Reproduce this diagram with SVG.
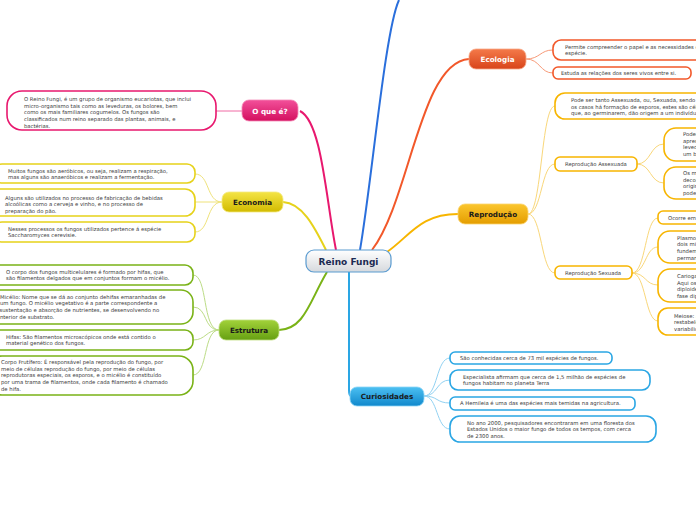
<svg xmlns="http://www.w3.org/2000/svg" width="696" height="520" viewBox="0 0 696 520">
<defs>
<linearGradient id="gCenter" x1="0" y1="0" x2="0" y2="1"><stop offset="0" stop-color="#ffffff"/><stop offset="1" stop-color="#d6d9dd"/></linearGradient>
<linearGradient id="gPink" x1="0" y1="0" x2="0" y2="1"><stop offset="0" stop-color="#f2509a"/><stop offset="1" stop-color="#d4105f"/></linearGradient>
<linearGradient id="gRed" x1="0" y1="0" x2="0" y2="1"><stop offset="0" stop-color="#f47a4a"/><stop offset="1" stop-color="#d8441a"/></linearGradient>
<linearGradient id="gGold" x1="0" y1="0" x2="0" y2="1"><stop offset="0" stop-color="#fbc62e"/><stop offset="1" stop-color="#e49d00"/></linearGradient>
<linearGradient id="gYellow" x1="0" y1="0" x2="0" y2="1"><stop offset="0" stop-color="#f4e445"/><stop offset="1" stop-color="#d2bb00"/></linearGradient>
<linearGradient id="gGreen" x1="0" y1="0" x2="0" y2="1"><stop offset="0" stop-color="#a2d23a"/><stop offset="1" stop-color="#66a012"/></linearGradient>
<linearGradient id="gBlue" x1="0" y1="0" x2="0" y2="1"><stop offset="0" stop-color="#4cc0f2"/><stop offset="1" stop-color="#1088cc"/></linearGradient>
</defs>
<style>
.leaf{fill:#ffffff;stroke-width:1.6}
.lt{font-family:"DejaVu Sans",Verdana,sans-serif;font-size:5.3px;fill:#3a3a3a}
.bt{font-family:"DejaVu Sans",Verdana,sans-serif;font-size:7.2px;font-weight:bold;text-anchor:middle}
.ct{font-family:"DejaVu Sans",Verdana,sans-serif;font-size:9px;font-weight:bold;text-anchor:middle;fill:#1b2a52}
.main{fill:none;stroke-width:2}
.sub{fill:none;stroke-width:1}
.pk{stroke:#e8186e}.rd{stroke:#f2582a}.gd{stroke:#f7b500}.yl{stroke:#e6d21a}.gr{stroke:#7ab317}.bl{stroke:#2aa6e4}.db{stroke:#2a6fdc}
.pkL{stroke:#f06aa4}.rdL{stroke:#f79a78}.gdL{stroke:#f9d77a}.ylL{stroke:#efe27a}.grL{stroke:#bcdc86}.blL{stroke:#92d2f2}
</style>
<g id="connectors">
<path class="main pk" d="M336,250 C 326,200 322,122 300,111"/>
<path class="main yl" d="M326,250 C 314,226 302,203 283,202"/>
<path class="main db" d="M360,250 C 372,180 385,30 399,0"/>
<path class="main rd" d="M372,250 C 410,200 420,62 469,59"/>
<path class="main gd" d="M387,252 C 410,236 420,214 458,214"/>
<path class="main gr" d="M327,272 C 310,300 305,329 279,330"/>
<path class="main bl" d="M349,272 L 349,390 Q 349,396 351,396"/>
<path class="sub pkL" d="M242,111 L 216,111"/>
<path class="sub ylL" d="M222,202 C 206,202 210,174 195,174"/>
<path class="sub ylL" d="M222,202 L 195,202"/>
<path class="sub ylL" d="M222,202 C 206,202 210,232 195,232"/>
<path class="sub grL" d="M219,330 C 202,330 208,275 193,275"/>
<path class="sub grL" d="M219,330 C 203,330 208,307 193,307"/>
<path class="sub grL" d="M219,330 C 206,330 206,340 193,340"/>
<path class="sub grL" d="M219,330 C 203,330 208,375 193,375"/>
<path class="sub rdL" d="M526,59 C 540,59 540,50 553,50"/>
<path class="sub rdL" d="M526,59 C 540,59 540,73 553,73"/>
<path class="sub gdL" d="M528,214 C 542,214 541,106 555,106"/>
<path class="sub gdL" d="M528,214 C 542,214 541,164 555,164"/>
<path class="sub gdL" d="M528,214 C 542,214 541,273 555,273"/>
<path class="sub gdL" d="M637,164 C 651,164 650,144 664,144"/>
<path class="sub gdL" d="M637,164 C 651,164 650,183 664,183"/>
<path class="sub gdL" d="M632,273 C 646,273 645,218 658,218"/>
<path class="sub gdL" d="M632,273 C 646,273 645,247 658,247"/>
<path class="sub gdL" d="M632,273 C 646,273 645,285 658,285"/>
<path class="sub gdL" d="M632,273 C 646,273 645,321 658,321"/>
<path class="sub blL" d="M424,396 C 438,396 436,358 450,358"/>
<path class="sub blL" d="M424,396 C 438,396 436,380 450,380"/>
<path class="sub blL" d="M424,396 C 438,396 436,403 450,403"/>
<path class="sub blL" d="M424,396 C 438,396 436,429 450,429"/>
</g>
<g id="center">
<rect x="306" y="250" width="85" height="22" rx="8" fill="url(#gCenter)" stroke="#5a9bd0" stroke-width="1.2"/>
<text class="ct" x="348.5" y="264.5">Reino Fungi</text>
</g>
<g id="oque">
<rect x="242" y="100" width="56" height="21" rx="7" fill="url(#gPink)" stroke="#f58ab8" stroke-width="0.8"/>
<text class="bt" x="270" y="113.5" fill="#ffffff">O que é?</text>
</g>
<g id="oque-leaf">
<rect class="leaf" x="7" y="91" width="209" height="39" rx="15" stroke="#e8186e"/>
<text class="lt" x="24" y="101">O Reino Fungi, é um grupo de organismo eucariotas, que inclui</text>
<text class="lt" x="24" y="107.7">micro-organismo tais como as leveduras, os bolores, bem</text>
<text class="lt" x="24" y="114.4">como os mais familiares cogumelos. Os fungos são</text>
<text class="lt" x="24" y="121.1">classificados num reino separado das plantas, animais, e</text>
<text class="lt" x="24" y="127.8">bactérias.</text>
</g>
<g id="economia">
<rect x="222" y="192" width="61" height="20" rx="7" fill="url(#gYellow)" stroke="#f4ea80" stroke-width="0.8"/>
<text class="bt" x="252.5" y="204.7" fill="#1a1a1a">Economia</text>
</g>
<g id="eco-leaf1">
<rect class="leaf" x="-6" y="164" width="201" height="19" rx="8" stroke="#e6d21a"/>
<text class="lt" x="8" y="172.5">Muitos fungos são aeróbicos, ou seja, realizam a respiração,</text>
<text class="lt" x="8" y="179.2">mas alguns são anaeróbicos e realizam a fermentação.</text>
</g>
<g id="eco-leaf2">
<rect class="leaf" x="-12" y="189" width="207" height="27" rx="10" stroke="#e6d21a"/>
<text class="lt" x="5" y="199.5">Alguns são utilizados no processo de fabricação de bebidas</text>
<text class="lt" x="5" y="206.2">alcoólicas como a cerveja e vinho, e no processo de</text>
<text class="lt" x="5" y="212.9">preparação do pão.</text>
</g>
<g id="eco-leaf3">
<rect class="leaf" x="-6" y="222" width="201" height="20" rx="8" stroke="#e6d21a"/>
<text class="lt" x="8" y="230.5">Nesses processos os fungos utilizados pertence á espécie</text>
<text class="lt" x="8" y="237.2">Saccharomyces cerevisie.</text>
</g>
<g id="estrutura">
<rect x="219" y="320" width="60" height="20" rx="7" fill="url(#gGreen)" stroke="#c0e080" stroke-width="0.8"/>
<text class="bt" x="249" y="332.7" fill="#1a1a1a">Estrutura</text>
</g>
<g id="est-leaf1">
<rect class="leaf" x="-8" y="265" width="201" height="20" rx="8" stroke="#7ab317"/>
<text class="lt" x="6" y="273.5">O corpo dos fungos multicelulares é formado por hifas, que</text>
<text class="lt" x="6" y="280.2">são filamentos delgados que em conjuntos formam o micélio.</text>
</g>
<g id="est-leaf2">
<rect class="leaf" x="-12" y="290" width="205" height="34" rx="12" stroke="#7ab317"/>
<text class="lt" x="0" y="298.5">Micélio: Nome que se dá ao conjunto dehifas emaranhadas de</text>
<text class="lt" x="0" y="305.2">um fungo. O micélio vegetativo é a parte correspondente a</text>
<text class="lt" x="-0.5" y="311.9">sustentação e absorção de nutrientes, se desenvolvendo no</text>
<text class="lt" x="-1.6" y="318.6">interior de substrato.</text>
</g>
<g id="est-leaf3">
<rect class="leaf" x="-8" y="330" width="201" height="20" rx="8" stroke="#7ab317"/>
<text class="lt" x="6" y="338.5">Hifas: São filamentos microscópicos onde está contido o</text>
<text class="lt" x="6" y="345.2">material genético dos fungos.</text>
</g>
<g id="est-leaf4">
<rect class="leaf" x="-12" y="356" width="205" height="39" rx="14" stroke="#7ab317"/>
<text class="lt" x="1" y="364">Corpo Frutífero: É responsável pela reprodução do fungo, por</text>
<text class="lt" x="1" y="370.7">meio de células reprodução do fungo, por meio de células</text>
<text class="lt" x="1" y="377.4">reprodutoras especiais, os esporos, e o micélio é constituído</text>
<text class="lt" x="1" y="384.1">por uma trama de filamentos, onde cada filamento é chamado</text>
<text class="lt" x="1" y="390.8">de hifa.</text>
</g>
<g id="ecologia">
<rect x="469" y="49" width="57" height="20" rx="7" fill="url(#gRed)" stroke="#f8a888" stroke-width="0.8"/>
<text class="bt" x="497.5" y="61.7" fill="#ffffff">Ecologia</text>
</g>
<g id="ecol-leaf1">
<rect class="leaf" x="553" y="40" width="160" height="20" rx="8" stroke="#f2582a"/>
<text class="lt" x="565" y="48.5">Permite compreender o papel e as necessidades de cada</text>
<text class="lt" x="565" y="55.2">espécie.</text>
</g>
<g id="ecol-leaf2">
<rect class="leaf" x="553" y="67" width="138" height="12" rx="5" stroke="#f2582a"/>
<text class="lt" x="561" y="74.8">Estuda as relações dos seres vivos entre si.</text>
</g>
<g id="reproducao">
<rect x="458" y="204" width="70" height="20" rx="7" fill="url(#gGold)" stroke="#fbd470" stroke-width="0.8"/>
<text class="bt" x="493" y="216.7" fill="#1a1a1a">Reprodução</text>
</g>
<g id="rep-leaf1">
<rect class="leaf" x="555" y="93" width="160" height="26" rx="10" stroke="#f7b500"/>
<text class="lt" x="571" y="102">Pode ser tanto Assexuada, ou, Sexuada, sendo que em</text>
<text class="lt" x="571" y="108.7">os casos há formação de esporos, estes são células</text>
<text class="lt" x="571" y="115.4">que, ao germinarem, dão origem a um indivíduo</text>
</g>
<g id="rep-assexuada">
<rect class="leaf" x="555" y="157" width="82" height="14" rx="5" stroke="#f7b500"/>
<text class="lt" x="565" y="166">Reprodução Assexuada</text>
</g>
<g id="ass-leaf1">
<rect class="leaf" x="664" y="128" width="60" height="33" rx="12" stroke="#f7b500"/>
<text class="lt" x="683" y="136">Podem</text>
<text class="lt" x="683" y="142.7">apresentar</text>
<text class="lt" x="683" y="149.4">leveduras</text>
<text class="lt" x="683" y="156.1">um broto</text>
</g>
<g id="ass-leaf2">
<rect class="leaf" x="664" y="167" width="60" height="32" rx="12" stroke="#f7b500"/>
<text class="lt" x="683" y="175">Os micélios</text>
<text class="lt" x="683" y="181.7">decompõem</text>
<text class="lt" x="683" y="188.4">originando</text>
<text class="lt" x="683" y="195.1">podendo</text>
</g>
<g id="rep-sexuada">
<rect class="leaf" x="555" y="266" width="77" height="13" rx="5" stroke="#f7b500"/>
<text class="lt" x="565" y="274.5">Reprodução Sexuada</text>
</g>
<g id="sex-leaf1">
<rect class="leaf" x="658" y="211" width="60" height="13" rx="5" stroke="#f7b500"/>
<text class="lt" x="668" y="219.5">Ocorre em três</text>
</g>
<g id="sex-leaf2">
<rect class="leaf" x="658" y="231" width="60" height="32" rx="12" stroke="#f7b500"/>
<text class="lt" x="677" y="239.5">Plasmogamia</text>
<text class="lt" x="677" y="246.2">dois micélios</text>
<text class="lt" x="677" y="252.9">fundem-se</text>
<text class="lt" x="677" y="259.6">permanecem</text>
</g>
<g id="sex-leaf3">
<rect class="leaf" x="658" y="269" width="60" height="33" rx="12" stroke="#f7b500"/>
<text class="lt" x="677" y="278">Cariogamia</text>
<text class="lt" x="677" y="284.7">Aqui os</text>
<text class="lt" x="677" y="291.4">diploides</text>
<text class="lt" x="677" y="298.1">fase diploide</text>
</g>
<g id="sex-leaf4">
<rect class="leaf" x="658" y="308" width="60" height="27" rx="10" stroke="#f7b500"/>
<text class="lt" x="674" y="317.5">Meiose: a</text>
<text class="lt" x="674" y="324.2">restabelece</text>
<text class="lt" x="674" y="330.9">variabilidade</text>
</g>
<g id="curiosidades">
<rect x="350" y="387" width="74" height="19" rx="7" fill="url(#gBlue)" stroke="#8ad4f6" stroke-width="0.8"/>
<text class="bt" x="387" y="399.2" fill="#1a1a1a">Curiosidades</text>
</g>
<g id="cur-leaf1">
<rect class="leaf" x="450" y="352" width="162" height="12" rx="5" stroke="#2aa6e4"/>
<text class="lt" x="460" y="359.8">São conhecidas cerca de 73 mil espécies de fungos.</text>
</g>
<g id="cur-leaf2">
<rect class="leaf" x="450" y="370" width="200" height="20" rx="8" stroke="#2aa6e4"/>
<text class="lt" x="463" y="378.5">Especialista afirmam que cerca de 1,5 milhão de espécies de</text>
<text class="lt" x="463" y="385.2">fungos habitam no planeta Terra</text>
</g>
<g id="cur-leaf3">
<rect class="leaf" x="450" y="397" width="185" height="13" rx="5" stroke="#2aa6e4"/>
<text class="lt" x="460" y="405.3">A Hemileia é uma das espécies mais temidas na agricultura.</text>
</g>
<g id="cur-leaf4">
<rect class="leaf" x="450" y="416" width="206" height="26" rx="10" stroke="#2aa6e4"/>
<text class="lt" x="467" y="424.5">No ano 2000, pesquisadores encontraram em uma floresta dos</text>
<text class="lt" x="467" y="431.2">Estados Unidos o maior fungo de todos os tempos, com cerca</text>
<text class="lt" x="467" y="437.9">de 2300 anos.</text>
</g>
</svg>
